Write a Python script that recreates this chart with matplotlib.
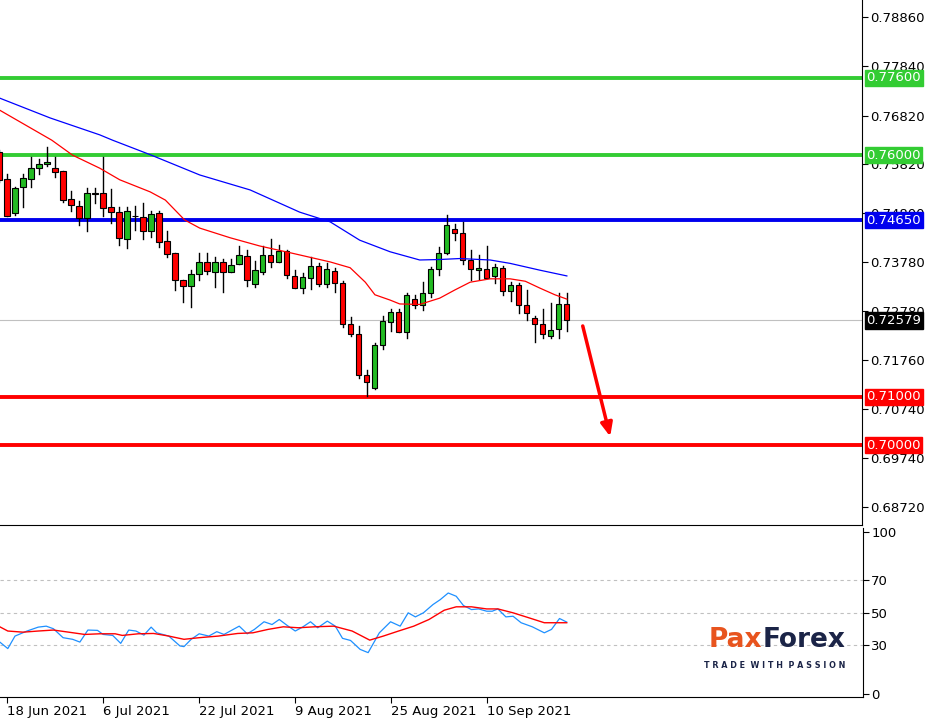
import matplotlib
matplotlib.use("Agg")
import matplotlib.pyplot as plt
from matplotlib.patches import Rectangle

# daily candles, index 0 = 18 Jun 2021 (index -1 is the partial one at the left edge)
opens = [0.7607, 0.7550, 0.7480, 0.7535, 0.7550, 0.7573, 0.7581, 0.7573, 0.7567, 0.7509, 0.7495,
         0.7469, 0.7521, 0.7521, 0.7492, 0.7482, 0.7426, 0.7475, 0.7473, 0.7442, 0.7480, 0.7422,
         0.7397, 0.7341, 0.7329, 0.7353, 0.7378, 0.7358, 0.7378, 0.7358, 0.7374, 0.7391, 0.7333,
         0.7358, 0.7393, 0.7378, 0.7402, 0.7350, 0.7326, 0.7345, 0.7371, 0.7333, 0.7360, 0.7335,
         0.7250, 0.7229, 0.7144, 0.7119, 0.7206, 0.7255, 0.7275, 0.7233, 0.7302, 0.7290, 0.7314,
         0.7364, 0.7397, 0.7447, 0.7438, 0.7384, 0.7362, 0.7364, 0.7350, 0.7366, 0.7319, 0.7331,
         0.7289, 0.7262, 0.7250, 0.7226, 0.7240, 0.7291]
highs = [0.7610, 0.7562, 0.7534, 0.7562, 0.7597, 0.7592, 0.7616, 0.7597, 0.7567, 0.7526, 0.7505,
         0.7531, 0.7533, 0.7597, 0.7529, 0.7493, 0.7493, 0.7495, 0.7500, 0.7484, 0.7485, 0.7443,
         0.7397, 0.7341, 0.7362, 0.7397, 0.7397, 0.7389, 0.7386, 0.7386, 0.7412, 0.7404, 0.7381,
         0.7411, 0.7427, 0.7415, 0.7404, 0.7362, 0.7357, 0.7390, 0.7376, 0.7376, 0.7367, 0.7340,
         0.7264, 0.7246, 0.7155, 0.7211, 0.7268, 0.7282, 0.7282, 0.7315, 0.7311, 0.7337, 0.7369,
         0.7409, 0.7476, 0.7458, 0.7462, 0.7404, 0.7393, 0.7411, 0.7375, 0.7371, 0.7338, 0.7336,
         0.7321, 0.7267, 0.7282, 0.7293, 0.7314, 0.7314]
lows = [0.7545, 0.7474, 0.7477, 0.7493, 0.7535, 0.7562, 0.7578, 0.7554, 0.7503, 0.7485, 0.7456,
        0.7444, 0.7502, 0.7475, 0.7459, 0.7415, 0.7407, 0.7445, 0.7426, 0.7430, 0.7409, 0.7390,
        0.7321, 0.7297, 0.7286, 0.7342, 0.7355, 0.7328, 0.7316, 0.7358, 0.7374, 0.7330, 0.7328,
        0.7355, 0.7369, 0.7378, 0.7345, 0.7326, 0.7314, 0.7322, 0.7329, 0.7328, 0.7317, 0.7244,
        0.7226, 0.7139, 0.7102, 0.7115, 0.7198, 0.7235, 0.7233, 0.7221, 0.7283, 0.7280, 0.7306,
        0.7352, 0.7395, 0.7424, 0.7374, 0.7342, 0.7343, 0.7346, 0.7335, 0.7311, 0.7299, 0.7273,
        0.7259, 0.7214, 0.7221, 0.7221, 0.7221, 0.7235]
closes = [0.7549, 0.7475, 0.7533, 0.7552, 0.7573, 0.7582, 0.7586, 0.7565, 0.7507, 0.7496, 0.7469,
          0.7521, 0.7520, 0.7491, 0.7483, 0.7428, 0.7484, 0.7474, 0.7442, 0.7478, 0.7420, 0.7395,
          0.7341, 0.7329, 0.7355, 0.7378, 0.7360, 0.7378, 0.7358, 0.7373, 0.7393, 0.7341, 0.7362,
          0.7393, 0.7378, 0.7402, 0.7351, 0.7326, 0.7347, 0.7371, 0.7333, 0.7364, 0.7335, 0.7250,
          0.7229, 0.7144, 0.7130, 0.7206, 0.7257, 0.7275, 0.7233, 0.7310, 0.7290, 0.7314, 0.7364,
          0.7397, 0.7455, 0.7438, 0.7384, 0.7364, 0.7366, 0.7346, 0.7368, 0.7319, 0.7331, 0.7289,
          0.7273, 0.7250, 0.7229, 0.7238, 0.7291, 0.7258]
first_index = -1

# moving averages (candle index, price)
ma_fast_x = [-0.9, 5.6, 8.2, 11.6, 14.1, 17.9, 19.8, 22.2, 24.1, 27.9, 31.6, 35.4, 40.4, 42.9,
             44.8, 46.0, 47.9, 49.1, 51.6, 54.1, 56.0, 57.9, 60.4, 62.9, 64.8, 66.6, 68.5, 70.0]
ma_fast_y = [0.7693, 0.7631, 0.7600, 0.7573, 0.7549, 0.7524, 0.7507, 0.7466, 0.7449, 0.7429,
             0.7412, 0.7398, 0.7379, 0.7367, 0.7337, 0.7311, 0.7300, 0.7292, 0.7291, 0.7304,
             0.7321, 0.7337, 0.7344, 0.7344, 0.7339, 0.7325, 0.7311, 0.7302]
ma_slow_x = [-0.9, 5.4, 11.6, 13.2, 17.9, 24.1, 30.4, 36.6, 40.4, 44.1, 47.9, 51.6, 54.1, 56.6,
             60.4, 62.9, 66.6, 70.0]
ma_slow_y = [0.7718, 0.7677, 0.7642, 0.7631, 0.7601, 0.7559, 0.7528, 0.7482, 0.7462, 0.7424,
             0.7400, 0.7383, 0.7384, 0.7386, 0.7383, 0.7376, 0.7362, 0.7350]

# RSI and its signal line
rsi_x = [-0.9, 0.1, 1.0, 2.5, 3.9, 4.9, 5.8, 7.0, 8.2, 9.1, 10.1, 11.3, 12.0, 13.2, 14.2, 15.2,
         16.1, 17.1, 18.0, 18.7, 20.2, 21.6, 22.1, 23.0, 24.0, 25.2, 26.2, 27.1, 29.0, 30.0, 30.9,
         32.1, 33.1, 34.0, 35.0, 36.0, 36.9, 37.9, 38.8, 40.0, 41.0, 41.9, 42.9, 44.1, 45.1, 46.5,
         47.9, 49.1, 50.1, 51.0, 52.0, 53.2, 54.1, 55.1, 56.1, 57.0, 58.0, 58.9, 59.9, 60.6, 61.3,
         62.3, 63.2, 64.2, 65.6, 67.1, 68.0, 69.0, 69.9]
rsi_y = [32.0, 28.0, 35.7, 38.8, 41.2, 41.8, 40.2, 34.7, 33.7, 32.0, 39.4, 39.2, 36.7, 36.1, 31.2,
         39.4, 38.8, 36.3, 41.2, 37.7, 35.7, 29.6, 29.2, 33.7, 37.1, 35.7, 38.4, 36.7, 41.8, 37.1,
         39.8, 44.5, 42.8, 45.9, 42.2, 38.8, 41.2, 44.5, 40.8, 44.9, 41.8, 34.3, 33.0, 27.5, 25.5,
         37.7, 44.5, 41.8, 50.0, 47.5, 50.0, 55.1, 58.1, 62.2, 60.2, 54.5, 52.0, 52.4, 51.0, 51.0,
         52.4, 47.5, 47.9, 43.9, 41.4, 37.7, 39.8, 46.5, 44.3]
sig_x = [-0.9, 0.1, 2.0, 3.9, 5.8, 7.7, 9.7, 11.6, 13.5, 14.4, 16.4, 18.3, 20.2, 22.1, 24.0, 26.4,
         28.8, 30.7, 32.6, 34.5, 36.4, 38.4, 40.8, 43.1, 45.3, 47.0, 48.9, 50.8, 52.7, 54.6, 56.1,
         58.0, 59.9, 61.3, 63.2, 65.2, 67.1, 68.5, 69.9]
sig_y = [41.4, 38.8, 38.1, 38.8, 39.4, 38.1, 36.7, 37.1, 37.1, 36.1, 37.1, 37.3, 35.7, 33.7, 34.7,
         35.7, 37.3, 37.7, 39.8, 41.4, 40.8, 41.4, 41.8, 38.8, 33.2, 35.7, 38.8, 41.8, 45.9, 51.6,
         53.7, 53.7, 52.4, 52.4, 50.0, 46.9, 43.9, 43.9, 43.9]

levels = [0.7760, 0.7600, 0.7465, 0.7100, 0.7000]
level_colors = ["#33cc33", "#33cc33", "#0000ee", "#ff0000", "#ff0000"]
last_price = 0.72579
date_ticks = [0, 12, 24, 36, 48, 60]
date_labels = ["18 Jun 2021", "6 Jul 2021", "22 Jul 2021", "9 Aug 2021", "25 Aug 2021", "10 Sep 2021"]
price_ticks = [0.78860, 0.77840, 0.76820, 0.75820, 0.74800, 0.73780, 0.72780, 0.71760, 0.70740,
               0.69740, 0.68720]

W, H = 926, 719
fig = plt.figure(figsize=(W / 100, H / 100), dpi=100)
ax = fig.add_axes([0, 1 - 525 / H, 862 / W, 525 / H])
ax2 = fig.add_axes([0, 1 - 697 / H, 863 / W, 169 / H])
xlim = (-0.875, 106.9)

for a in (ax, ax2):
    a.set_xlim(*xlim)
    for s in ("top", "left"):
        a.spines[s].set_visible(False)
    a.yaxis.tick_right()
    a.tick_params(axis="y", length=4, labelsize=9.5, pad=2)

ax.set_ylim(0.68344, 0.79212)
ax.set_yticks(price_ticks)
ax.set_yticklabels([f"{t:.5f}" for t in price_ticks])
ax.set_xticks([])

# price lines first so candles sit on top
ax.axhline(last_price, color="#c0c0c0", lw=0.8)
for lv, c in zip(levels, level_colors):
    ax.axhline(lv, color=c, lw=2.8, zorder=2)

for i, (o, h, l, c) in enumerate(zip(opens, highs, lows, closes)):
    x = first_index + i
    col = "#22bb22" if c >= o else "#ff0000"
    ax.plot([x, x], [l, h], color="black", lw=1, zorder=3)
    body = max(abs(c - o), 0.00005)
    ax.add_patch(Rectangle((x - 0.32, min(o, c)), 0.64, body, facecolor=col,
                           edgecolor="black", lw=0.8, zorder=4))

ax.plot(ma_fast_x, ma_fast_y, color="#ff0000", lw=0.9, zorder=5)
ax.plot(ma_slow_x, ma_slow_y, color="#0000ff", lw=0.9, zorder=5)

ax.annotate("", xy=(75.5, 0.7012), xytext=(71.9, 0.7252),
            arrowprops=dict(arrowstyle="-|>,head_length=0.8,head_width=0.35", color="#ff0000", lw=2.5))

for lv, c in zip(levels, level_colors):
    ax.text(1.005, lv, f"{lv:.5f}", transform=ax.get_yaxis_transform(), va="center", ha="left",
            fontsize=9.5, color="white", bbox=dict(boxstyle="square,pad=0.12", fc=c, ec=c), zorder=10)
ax.text(1.005, last_price, f"{last_price:.5f}", transform=ax.get_yaxis_transform(), va="center",
        ha="left", fontsize=9.5, color="white",
        bbox=dict(boxstyle="square,pad=0.12", fc="black", ec="black"), zorder=10)

# RSI panel
ax2.set_ylim(-1.8, 102.2)
ax2.set_yticks([0, 30, 50, 70, 100])
for lv in (30, 50, 70):
    ax2.axhline(lv, color="#c0c0c0", lw=0.8, ls=(0, (3, 3)))
ax2.plot(rsi_x, rsi_y, color="#1e90ff", lw=0.9)
ax2.plot(sig_x, sig_y, color="#ff0000", lw=1.0)
ax2.set_xticks(date_ticks)
ax2.set_xticklabels(date_labels, ha="left", fontsize=9.5)
ax2.tick_params(axis="x", length=4, pad=2)

# logo
fig.text(762 / W, 1 - 640 / H, "Pax", fontsize=19, color="#e8541e", fontweight="bold",
         ha="right", va="center")
fig.text(763 / W, 1 - 640 / H, "Forex", fontsize=19, color="#1b2447", fontweight="bold",
         ha="left", va="center")
fig.text(775 / W, 1 - 665 / H, "T R A D E  W I T H  P A S S I O N", fontsize=5.8,
         color="#1b2447", fontweight="bold", ha="center", va="center")

fig.savefig("out.png", dpi=100)
